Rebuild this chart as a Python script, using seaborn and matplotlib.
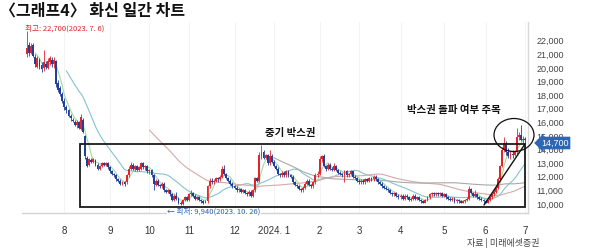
import numpy as np
import pandas as pd
import matplotlib
matplotlib.use("Agg")
import matplotlib.pyplot as plt
from matplotlib.patches import Rectangle, Ellipse
import seaborn as sns

# ---------------- data (prices in hundreds of won) ----------------
open_h = [210,217,211,217,208,201,206,202,200,203, 200,204,206,203,205,189,185,181,176,171,
          169,165,162,160,158,160,155,162,150,134, 129,132,131,132,129,126,128,130,129,130,
          127,124,122,121,118,117,115,116,116,121, 126,129,126,128,125,126,130,127,128,124,
          125,121,114,117,114,113,115,110,109,110, 107,103,106,104,101,100,103,105,103,107,
          108,106,104,105,103,102,101,102,113,117, 116,117,119,118,120,126,122,119,117,115,
          113,112,110,111,109,110,108,107,109,106, 110,119,117,135,138,134,136,130,135,131,
          128,126,122,121,123,121,124,121,120,116, 114,113,111,110,112,115,117,114,113,116,
          121,122,133,135,128,126,129,126,125,128, 125,123,122,121,124,121,122,124,120,119,
          117,116,117,116,118,117,119,118,120,118, 116,115,113,112,111,110,108,107,108,106,
          105,106,104,106,105,103,104,106,104,105, 103,102,101,103,105,107,108,107,108,107,
          108,106,107,105,104,103,104,102,103,102, 101,102,103,104,111,108,106,107,105,104,
          103,102,101,103,105,107,109,112,118,128, 140,145,138,135,137,136,138,149,151,147,
          148]
high_h = [227,219,218,218,210,209,207,204,213,205, 207,209,208,208,206,191,187,182,178,173,
          170,166,163,162,162,161,166,163,151,135, 134,134,134,133,130,129,131,131,131,131,
          128,125,123,122,119,118,117,117,122,128, 131,130,129,129,128,131,131,129,129,126,
          126,122,118,118,115,116,116,111,111,110, 108,107,109,105,102,104,106,106,108,110,
          109,107,106,106,104,103,103,114,119,119, 118,120,120,121,128,129,123,120,118,116,
          114,113,112,112,111,111,109,110,110,111, 120,120,138,143,140,137,137,140,137,132,
          129,127,123,124,124,125,125,122,121,117, 115,114,112,113,116,118,118,115,117,123,
          124,135,136,137,129,130,130,127,130,129, 126,124,123,125,125,123,125,124,121,120,
          118,118,118,119,119,120,120,121,121,119, 117,116,114,113,112,111,109,109,109,107,
          107,107,107,107,106,105,107,107,106,106, 104,103,104,106,108,109,109,109,109,109,
          109,108,108,106,105,105,105,104,104,103, 103,104,105,113,112,109,110,108,106,105,
          104,103,104,106,108,111,114,120,129,142, 149,146,141,139,140,140,156,153,158,150,
          149]
low_h = [208,209,210,208,201,200,199,197,198,199, 199,202,201,200,186,182,179,174,169,167,
         164,161,160,157,156,155,154,152,133,127, 128,130,130,128,125,125,127,128,128,126,
         123,121,120,117,116,114,114,113,115,120, 125,125,124,124,124,125,126,125,123,122,
         120,110,113,113,112,112,109,108,108,106, 102,102,103,100,99.4,99.6,102,102,102,106,
         105,103,103,102,101,100,100.5,101,112,115, 115,116,116,117,119,121,118,116,114,112,
         111,109,109,108,108,107,106,106,105,105, 109,116,116,133,133,133,129,129,130,127,
         125,121,120,120,120,120,120,119,115,113, 112,110,109,109,111,114,113,112,112,115,
         120,121,131,127,124,125,125,124,124,124, 122,121,120,116,120,120,121,119,118,116,
         115,115,115,115,116,116,117,117,117,115, 114,112,111,110,109,107,106,106,105,104,
         104,103,103,104,102,102,103,103,103,102, 101,100.5,100.5,102,104,106,106,106,106,106,
         105,105,104,103,102,102,101,101,101,100.5, 100.5,101,102,103,107,105,105,104,103,102,
         101,100.5,100.5,102,104,106,108,111,117,127, 138,136,134,133,134,135,137,147,146,145,
         145]
close_h = [215,211,216,209,203,207,201,199,204,201, 205,207,203,206,188,184,181,176,171,169,
           165,163,161,158,160,156,164,153,135,128, 133,131,133,129,126,128,130,129,130,127,
           124,122,121,118,117,115,116,115,121,126, 129,126,128,125,127,130,127,128,124,125,
           121,115,117,114,113,115,110,109,110,107, 103,106,104,101,100,103,105,103,107,108,
           106,104,105,103,102,101,102,113,117,116, 117,119,118,120,126,122,119,117,115,113,
           112,110,111,109,110,108,107,109,106,110, 119,117,136,138,134,136,130,135,131,128,
           126,122,121,123,121,124,121,120,116,114, 113,111,110,112,115,117,114,113,116,121,
           122,133,135,128,126,129,126,125,128,125, 123,122,121,124,121,122,124,120,119,117,
           116,117,116,118,117,119,118,120,118,116, 115,113,112,111,110,108,107,108,106,105,
           106,104,106,105,103,104,106,104,105,103, 102,101,103,105,107,108,107,108,107,108,
           106,107,105,104,103,104,102,103,102,101, 102,103,104,111,108,106,107,105,104,103,
           102,101,103,105,107,109,112,118,128,140, 145,138,135,137,136,138,149,151,147,148,
           147]

krx_holidays = ["2023-08-15", "2023-09-28", "2023-09-29", "2023-10-02", "2023-10-03",
                "2023-10-09", "2023-12-25", "2023-12-29", "2024-01-01", "2024-02-09",
                "2024-02-12", "2024-03-01", "2024-04-10", "2024-05-01", "2024-05-06",
                "2024-05-15", "2024-06-06"]
month_labels = ["8", "9", "10", "11", "12", "2024. 1", "2", "3", "4", "5", "6", "7"]
ytick_values = [10000, 11000, 12000, 13000, 14000, 15000, 16000, 17000, 18000,
                19000, 20000, 21000, 22000]
ma_windows = [5, 20, 60, 120]
ma_colors = {"MA5": "#a6d8a0", "MA20": "#86c3cc", "MA60": "#d7a9a9", "MA120": "#a9a9a9"}
last_price_text = "14,700"

# ---------------- build frame ----------------
dates = pd.bdate_range("2023-07-06", "2024-07-01", freq="C", holidays=krx_holidays)
o = np.array(open_h, float) * 100
h = np.array(high_h, float) * 100
l = np.array(low_h, float) * 100
c = np.array(close_h, float) * 100
n = min(len(dates), len(o))
df = pd.DataFrame({"date": dates[:n], "idx": np.arange(n), "open": o[:n],
                   "high": h[:n], "low": l[:n], "close": c[:n]})

ma_frames = []
for w in ma_windows:
    s = df["close"].rolling(w, min_periods=w).mean()
    ma_frames.append(pd.DataFrame({"idx": df["idx"], "value": s, "line": f"MA{w}"}))
ma_long = pd.concat(ma_frames).dropna()

month_pos = df.groupby([df["date"].dt.year, df["date"].dt.month])["idx"].min().values[1:]

# ---------------- style ----------------
sns.set_style("white")
plt.rcParams["font.family"] = ["Noto Sans CJK KR", "DejaVu Sans"]
num_font = ["Liberation Sans Narrow", "Liberation Sans", "DejaVu Sans"]

W, H = 600, 249
fig = plt.figure(figsize=(6.0, 2.49), dpi=100)
L, R, T, B = 22, 528, 22, 213
ax = fig.add_axes([L / W, 1 - B / H, (R - L) / W, (B - T) / H])

x0, dx = 27.0, 2.075          # pixel of first candle, pixels per trading day
ypx0, dy = 40.7, 73.5         # pixel of 22,000 and won per pixel
def xi(px): return (px - x0) / dx
def yp(py): return 22000 - (py - ypx0) * dy

up = df["close"] >= df["open"]
colors = np.where(up, "#e5232b", "#1f3f98")
ax.vlines(df["idx"], df["low"], df["high"], colors=colors, lw=0.6, zorder=3)
body_bot = np.minimum(df["open"], df["close"])
body_h = np.maximum(np.abs(df["close"] - df["open"]), 40)
ax.bar(df["idx"], body_h, bottom=body_bot, width=0.9, color=colors, lw=0, zorder=4)

sns.lineplot(data=ma_long, x="idx", y="value", hue="line", palette=ma_colors,
             linewidth=0.8, legend=False, ax=ax, zorder=2)

ax.set_xlim(xi(L), xi(R))
ax.set_ylim(yp(B), yp(T))

# box, trend line, ellipse
bx0, bx1 = xi(80), xi(525)
by0, by1 = yp(207), yp(144)
ax.add_patch(Rectangle((bx0, by0), bx1 - bx0, by1 - by0, fill=False,
                       ec="#1a1a1a", lw=1.3, zorder=6))
ax.plot([xi(484), xi(525)], [yp(205), yp(144)], color="#111111", lw=1.0, zorder=6)
ax.add_patch(Ellipse((xi(514), yp(135)), 40 / dx, 33 * dy, fill=False,
                     ec="#111111", lw=0.9, zorder=6, clip_on=False))

# axes styling
for sp in ["top", "left"]:
    ax.spines[sp].set_visible(False)
ax.spines["bottom"].set_color("#d2d2d2")
ax.spines["right"].set_color("#d8d8d8")
ax.spines["bottom"].set_linewidth(1.0)
ax.spines["right"].set_linewidth(1.0)

ax.yaxis.tick_right()
ax.set_yticks(ytick_values)
ax.set_yticklabels([f"{v:,}" for v in ytick_values], fontsize=6.5, color="#444444",
                   family=num_font)
ax.tick_params(axis="y", length=0, pad=6)
ax.set_xticks(month_pos)
ax.set_xticklabels(month_labels[:len(month_pos)], fontsize=7, color="#333333", family=num_font)
ax.tick_params(axis="x", length=0, pad=9)
ax.grid(axis="x", color="#f1f1f1", lw=0.6)
ax.grid(axis="y", visible=False)
ax.set_xlabel("")
ax.set_ylabel("")

# texts (pixel positions)
def ftext(px, py, s, **kw):
    return fig.text(px / W, 1 - py / H, s, **kw)

ftext(0, 11, "〈그래프4〉 화신 일간 차트", fontsize=11.5, fontweight="bold",
      color="#111111", va="center", ha="left")
ftext(25, 29, "최고: 22,700(2023. 7. 6)", fontsize=5.5, color="#e5232b",
      va="center", ha="left")
ftext(290, 133, "중기 박스권", fontsize=7.5, fontweight="bold", color="#111111",
      va="center", ha="center")
ftext(454, 110, "박스권 돌파 여부 주목", fontsize=7.5, fontweight="bold", color="#111111",
      va="center", ha="center")
ftext(167, 212, "← 최저: 9,940(2023. 10. 26)", fontsize=5.5, color="#2a5caa",
      va="center", ha="left",
      bbox=dict(boxstyle="square,pad=0.05", fc="white", ec="none"))
ftext(467, 243, "자료 | 미래에셋증권", fontsize=6.5, color="#444444",
      va="center", ha="left")
ftext(541, 143, last_price_text, fontsize=6.5, color="white", va="center", ha="left",
      family=num_font, zorder=10,
      bbox=dict(boxstyle="larrow,pad=0.2", fc="#2b67b4", ec="none"))

fig.savefig("out.png", dpi=100)
